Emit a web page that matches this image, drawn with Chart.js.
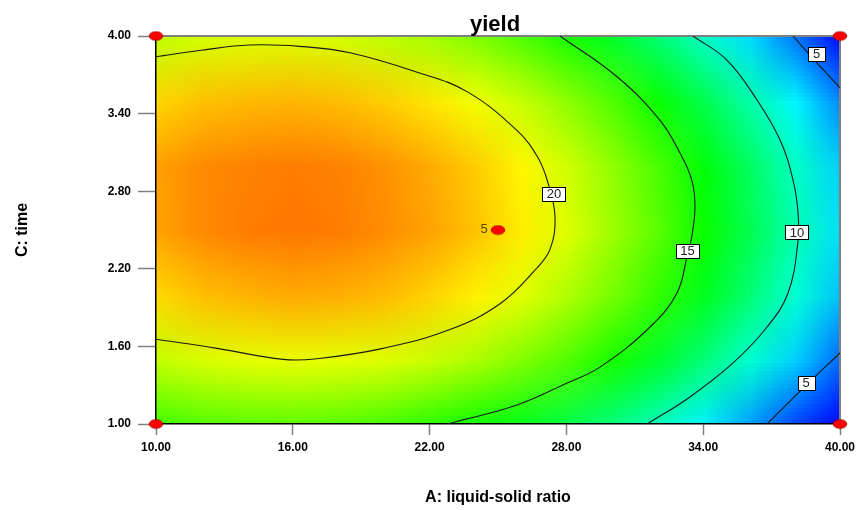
<!DOCTYPE html>
<html>
<head>
<meta charset="utf-8">
<script src="https://cdn.jsdelivr.net/npm/chart.js@4.4.1/dist/chart.umd.min.js"></script>
<style>
  html, body { margin: 0; padding: 0; background: #fff; }
  #wrap { width: 857px; height: 510px; }
</style>
</head>
<body>
<div id="wrap"><canvas id="contour" width="857" height="510"></canvas></div>
<script>
// Contour plot of yield vs A: liquid-solid ratio and C: time

const xTicks = [10, 16, 22, 28, 34, 40];
const yTicks = [1.0, 1.6, 2.2, 2.8, 3.4, 4.0];

// yield on a coarse grid (rows top -> bottom)
const xGrid = [10, 12, 14, 16, 18, 20, 22, 24, 26, 28, 30, 32, 34, 36, 38, 40];
const yGrid = [4.0, 3.5, 3.0, 2.5, 2.0, 1.5, 1.0];
const yieldGrid = [
  [18.8, 19.3, 19.5, 19.5, 19.3, 18.8, 18.2, 17.3, 16.2, 14.9, 13.4, 11.6, 9.6, 7.4, 5.0, 2.4],
  [21.3, 21.8, 22.0, 22.1, 21.9, 21.5, 20.9, 20.0, 19.0, 17.7, 16.2, 14.5, 12.5, 10.3, 8.0, 5.4],
  [22.6, 23.1, 23.3, 23.4, 23.3, 22.9, 22.3, 21.5, 20.5, 19.2, 17.7, 16.0, 14.1, 12.0, 9.6, 7.1],
  [22.5, 23.1, 23.4, 23.5, 23.4, 23.0, 22.5, 21.7, 20.7, 19.5, 18.0, 16.4, 14.5, 12.4, 10.1, 7.5],
  [21.2, 21.8, 22.1, 22.3, 22.2, 21.9, 21.3, 20.6, 19.6, 18.4, 17.0, 15.4, 13.6, 11.5, 9.2, 6.7],
  [18.9, 19.4, 19.7, 19.8, 19.7, 19.5, 19.0, 18.3, 17.3, 16.2, 14.8, 13.2, 11.4, 9.3, 7.1, 4.6],
  [15.8, 16.2, 16.4, 16.5, 16.3, 15.9, 15.3, 14.6, 13.7, 12.6, 11.3, 9.7, 7.9, 5.9, 3.7, 1.3]
];

// contour lines, [A, C]
const contour20 = [[10, 3.84], [12, 3.89], [14.1, 3.93], [16.3, 3.92], [18.5, 3.87], [21.45, 3.72],
  [23.64, 3.57], [25.83, 3.27], [26.75, 3.06], [27.2, 2.86], [27.5, 2.6], [27.28, 2.35],
  [26.62, 2.19], [25.09, 1.93], [22.89, 1.73], [19.96, 1.585], [17.06, 1.505], [15.57, 1.5],
  [12.68, 1.585], [10, 1.655]];
const contour15 = [[27.72, 4.0], [30.22, 3.685], [32.1, 3.35], [32.98, 3.095], [33.5, 2.886],
  [33.64, 2.68], [33.5, 2.45], [33.3, 2.3], [32.85, 2.013], [31.67, 1.75], [29.47, 1.44],
  [28.03, 1.317], [25.83, 1.147], [22.76, 1.0]];
const contour10 = [[33.55, 4.0], [35.04, 3.814], [36.36, 3.505], [37.37, 3.196], [37.94, 2.886],
  [38.16, 2.63], [38.15, 2.4], [37.72, 2.013], [36.8, 1.75], [35.31, 1.472], [33.42, 1.209],
  [31.54, 1.0]];
const contour5Top = [[37.94, 4.0], [38.9, 3.81], [40, 3.6]];
const contour5Bottom = [[36.8, 1.0], [38.4, 1.28], [40, 1.55]];

const contourLabelText = ['20', '15', '10', '5', '5'];
const contourLabelX = [27.46, 33.31, 38.11, 38.97, 38.51];
const contourLabelY = [2.778, 2.338, 2.481, 3.861, 1.317];

// design points and replicate count at the centre
const designX = [10, 10, 40, 40, 25];
const designY = [1, 4, 1, 4, 2.5];
const centreCount = '5';

// Design-Expert style blue -> cyan -> green -> yellow -> red
const STOP_VALUES = [2.2, 8.2, 14.3, 20.3, 26.4];
const STOP_COLORS = [[0, 0, 255], [0, 255, 255], [0, 255, 0], [255, 255, 0], [255, 0, 0]];

function colourFor(v) {
  if (v <= STOP_VALUES[0]) return STOP_COLORS[0];
  for (let i = 1; i < STOP_VALUES.length; i++) {
    if (v <= STOP_VALUES[i]) {
      const t = (v - STOP_VALUES[i - 1]) / (STOP_VALUES[i] - STOP_VALUES[i - 1]);
      const a = STOP_COLORS[i - 1], b = STOP_COLORS[i];
      return [0, 1, 2].map(k => Math.round(a[k] + (b[k] - a[k]) * t));
    }
  }
  return STOP_COLORS[STOP_COLORS.length - 1];
}

// small image, one pixel per grid value; the browser smooths it when scaled
function buildHeatImage() {
  const nx = xGrid.length, ny = yGrid.length;
  const c = document.createElement('canvas');
  c.width = nx; c.height = ny;
  const g = c.getContext('2d');
  const img = g.createImageData(nx, ny);
  for (let r = 0; r < ny; r++) {
    for (let i = 0; i < nx; i++) {
      const col = colourFor(yieldGrid[r][i]);
      const p = (r * nx + i) * 4;
      img.data[p] = col[0]; img.data[p + 1] = col[1]; img.data[p + 2] = col[2]; img.data[p + 3] = 255;
    }
  }
  g.putImageData(img, 0, 0);
  return c;
}
const heatImage = buildHeatImage();

function makeDot() {
  const c = document.createElement('canvas');
  c.width = 16; c.height = 11;
  const g = c.getContext('2d');
  g.beginPath();
  g.ellipse(8, 5.5, 6.8, 4.3, 0, 0, Math.PI * 2);
  g.fillStyle = '#ff0000';
  g.fill();
  g.lineWidth = 1;
  g.strokeStyle = '#b00000';
  g.stroke();
  return c;
}
const dot = makeDot();

const FONT = 'Arial, "Liberation Sans", sans-serif';

const heatmapPlugin = {
  id: 'heatmap',
  beforeDraw(chart) {
    const { ctx, chartArea: a, scales: { x, y } } = chart;
    const dx = xGrid[1] - xGrid[0];
    const dy = yGrid[0] - yGrid[1];
    const x0 = x.getPixelForValue(xGrid[0] - dx / 2);
    const x1 = x.getPixelForValue(xGrid[xGrid.length - 1] + dx / 2);
    const y0 = y.getPixelForValue(yGrid[0] + dy / 2);
    const y1 = y.getPixelForValue(yGrid[yGrid.length - 1] - dy / 2);
    ctx.save();
    ctx.beginPath();
    ctx.rect(a.left, a.top, a.right - a.left, a.bottom - a.top);
    ctx.clip();
    ctx.imageSmoothingEnabled = true;
    ctx.drawImage(heatImage, x0, y0, x1 - x0, y1 - y0);
    ctx.restore();

    // grey frame on top and right
    ctx.save();
    ctx.strokeStyle = '#808080';
    ctx.lineWidth = 2;
    ctx.beginPath();
    ctx.moveTo(a.left, a.top);
    ctx.lineTo(a.right, a.top);
    ctx.lineTo(a.right, a.bottom);
    ctx.stroke();
    ctx.restore();

    // title
    ctx.save();
    ctx.fillStyle = '#000';
    ctx.font = 'bold 22px ' + FONT;
    ctx.textAlign = 'center';
    ctx.textBaseline = 'alphabetic';
    ctx.fillText('yield', (a.left + a.right) / 2 - 3, 30.5);
    ctx.restore();
  },
  afterDatasetsDraw(chart) {
    const { ctx, scales: { x, y } } = chart;
    ctx.save();
    ctx.font = '13px ' + FONT;
    ctx.textAlign = 'center';
    ctx.textBaseline = 'middle';
    contourLabelText.forEach((t, i) => {
      const px = x.getPixelForValue(contourLabelX[i]);
      const py = y.getPixelForValue(contourLabelY[i]);
      const w = Math.max(ctx.measureText(t).width + 9, 17);
      const h = 14;
      ctx.fillStyle = '#fff';
      ctx.fillRect(Math.round(px - w / 2) + 0.5, Math.round(py - h / 2) + 0.5, Math.round(w), h);
      ctx.strokeStyle = '#000';
      ctx.lineWidth = 1;
      ctx.strokeRect(Math.round(px - w / 2) + 0.5, Math.round(py - h / 2) + 0.5, Math.round(w), h);
      ctx.fillStyle = '#222';
      ctx.fillText(t, px, py + 0.5);
    });
    // replicate count beside the centre point
    const cx = x.getPixelForValue(designX[4]);
    const cy = y.getPixelForValue(designY[4]);
    ctx.fillStyle = '#5a4800';
    ctx.fillText(centreCount, cx - 14, cy - 1);
    ctx.restore();
  }
};

function toPoints(arr) {
  return arr.map(p => ({ x: p[0], y: p[1] }));
}

function contourSet(arr) {
  return {
    data: toPoints(arr),
    showLine: true,
    borderColor: '#1a1a1a',
    borderWidth: 1.1,
    pointRadius: 0,
    tension: 0.4,
    fill: false
  };
}

new Chart(document.getElementById('contour'), {
  type: 'scatter',
  data: {
    datasets: [
      {
        data: designX.map((v, i) => ({ x: v, y: designY[i] })),
        pointStyle: dot,
        pointRadius: 6,
        clip: false
      },
      contourSet(contour20),
      contourSet(contour15),
      contourSet(contour10),
      contourSet(contour5Top),
      contourSet(contour5Bottom)
    ]
  },
  options: {
    responsive: false,
    animation: false,
    devicePixelRatio: 1,
    layout: { padding: { top: 36, right: 17, left: 0, bottom: 0 } },
    plugins: {
      legend: { display: false },
      tooltip: { enabled: false },
      title: { display: false }
    },
    scales: {
      x: {
        type: 'linear',
        min: 10,
        max: 40,
        afterBuildTicks: s => { s.ticks = xTicks.map(v => ({ value: v })); },
        afterFit: s => { s.height = 86; s.paddingLeft = 0; s.paddingRight = 0; },
        grid: { drawOnChartArea: false, tickLength: 11, tickColor: '#808080', tickWidth: 1.5 },
        border: { color: '#000', width: 1.5 },
        ticks: {
          autoSkip: false,
          maxRotation: 0,
          padding: 5,
          color: '#000',
          font: { family: FONT, size: 12, weight: 'bold' },
          callback: v => Number(v).toFixed(2)
        },
        title: {
          display: true,
          text: 'A: liquid-solid ratio',
          color: '#000',
          font: { family: FONT, size: 16, weight: 'bold' },
          padding: { top: 0, bottom: 3 }
        }
      },
      y: {
        type: 'linear',
        min: 1,
        max: 4,
        afterBuildTicks: s => { s.ticks = yTicks.map(v => ({ value: v })); },
        afterFit: s => { s.width = 156; s.paddingTop = 0; s.paddingBottom = 0; },
        grid: { drawOnChartArea: false, tickLength: 18, tickColor: '#808080', tickWidth: 1.5 },
        border: { color: '#000', width: 1.5 },
        ticks: {
          autoSkip: false,
          padding: 7,
          color: '#000',
          font: { family: FONT, size: 12, weight: 'bold' },
          callback: v => Number(v).toFixed(2)
        },
        title: {
          display: true,
          text: 'C: time',
          color: '#000',
          font: { family: FONT, size: 16, weight: 'bold' },
          padding: { top: 13, bottom: 0 }
        }
      }
    }
  },
  plugins: [heatmapPlugin]
});
</script>
</body>
</html>
